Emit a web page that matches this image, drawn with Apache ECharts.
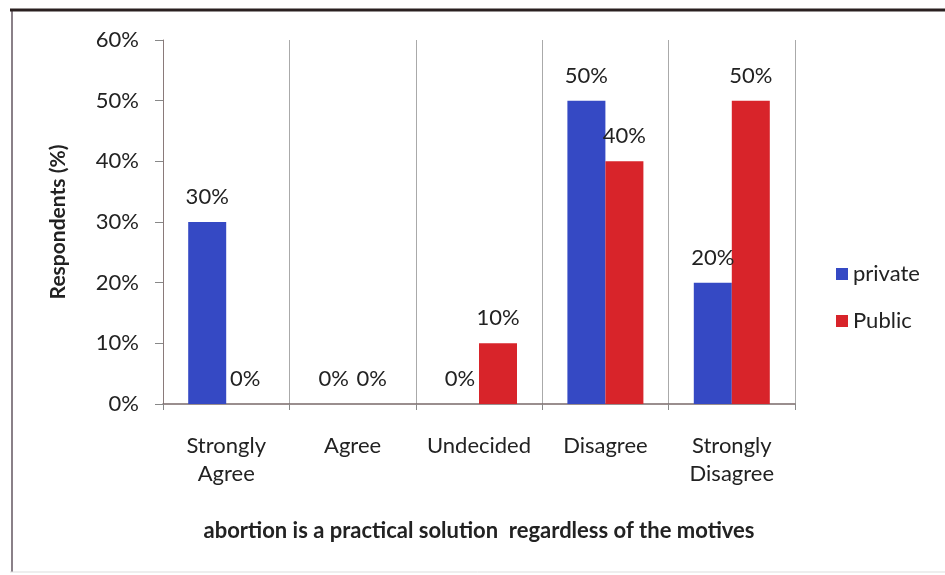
<!DOCTYPE html>
<html style="height: 100%">
<head>
<meta charset="utf-8">
<script type="text/javascript" src="https://cdn.jsdelivr.net/npm/echarts@6/dist/echarts.min.js"></script>
</head>
<body style="height: 100%; margin: 0; background: #fff">
<div id="container" style="width: 945px; height: 575px"></div>
<script type="text/javascript">
var categories = ['Strongly\nAgree', 'Agree', 'Undecided', 'Disagree', 'Strongly\nDisagree'];
var privateVals = [30, 0, 0, 50, 20];
var publicVals = [0, 0, 10, 40, 50];
var yTicks = [0, 10, 20, 30, 40, 50, 60];

var font = 'Lato, "Open Sans", sans-serif';
var chart = echarts.init(document.getElementById('container'));

// data label style shared by both series
var lbl = { show: true, position: 'top', distance: 14, formatter: '{c}%', fontFamily: font, fontSize: 22, color: '#222' };

var option = {
    backgroundColor: '#fff',
    textStyle: { fontFamily: font },
    graphic: [{
        type: 'line',
        shape: { x1: 12, y1: 10, x2: 12, y2: 572 },
        style: { stroke: '#8a8088', lineWidth: 2 },
        silent: true
    }, {
        type: 'line',
        shape: { x1: 10, y1: 572, x2: 945, y2: 572 },
        style: { stroke: '#ddd', lineWidth: 1 },
        silent: true
    }, {
        type: 'line',
        shape: { x1: 10, y1: 10, x2: 945, y2: 10 },
        style: { stroke: '#2a2020', lineWidth: 3 },
        silent: true
    }],
    legend: {
        orient: 'vertical',
        left: 831,
        top: 258,
        itemWidth: 12,
        itemHeight: 12,
        itemGap: 25,
        icon: 'rect',
        textStyle: { fontFamily: font, fontSize: 22, color: '#222' },
        data: ['private', 'Public']
    },
    grid: { left: 163, right: 150, top: 40, bottom: 171, containLabel: false },
    xAxis: {
        type: 'category',
        data: categories,
        name: 'abortion is a practical solution  regardless of the motives',
        nameLocation: 'middle',
        nameGap: 116,
        nameTextStyle: { fontFamily: font, fontSize: 22, fontWeight: 'bold', color: '#222' },
        axisLine: { show: true, lineStyle: { color: '#7a6a6a', width: 1.5 } },
        axisTick: { show: true, interval: 0, length: 6, lineStyle: { color: '#888' } },
        splitLine: { show: true, interval: 0, lineStyle: { color: '#aaa', width: 1 } },
        axisLabel: { interval: 0, fontFamily: font, fontSize: 22, color: '#222', margin: 28, lineHeight: 28 }
    },
    yAxis: {
        type: 'value',
        min: 0,
        max: 60,
        interval: 10,
        name: 'Respondents (%)',
        nameLocation: 'middle',
        nameRotate: 90,
        nameGap: 94,
        nameTextStyle: { fontFamily: font, fontSize: 21, fontWeight: 'bold', color: '#222' },
        axisLine: { show: true, lineStyle: { color: '#8a7a7a', width: 1 } },
        axisTick: { show: true, inside: false, length: 8, lineStyle: { color: '#888' } },
        splitLine: { show: false },
        axisLabel: {
            fontFamily: font, fontSize: 22, color: '#222', margin: 24,
            formatter: function (v) { return yTicks.indexOf(v) >= 0 ? v + '%' : ''; }
        }
    },
    series: [{
        name: 'private',
        type: 'bar',
        data: privateVals,
        barWidth: 38,
        barGap: '0%',
        itemStyle: { color: '#3549c4' },
        label: lbl
    }, {
        name: 'Public',
        type: 'bar',
        data: publicVals,
        barWidth: 38,
        barGap: '0%',
        itemStyle: { color: '#d8242a' },
        label: lbl
    }]
};
chart.setOption(option);
</script>
</body>
</html>
